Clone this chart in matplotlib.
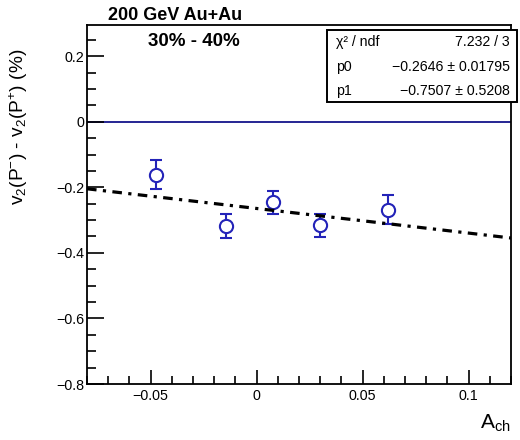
import matplotlib
matplotlib.use("Agg")
import matplotlib.pyplot as plt
import numpy as np
from matplotlib.patches import Rectangle
from matplotlib.ticker import MultipleLocator

plt.rcParams['font.family'] = ['Liberation Sans', 'DejaVu Sans']
plt.rcParams['mathtext.fontset'] = 'custom'
plt.rcParams['mathtext.rm'] = 'Liberation Sans'
plt.rcParams['mathtext.it'] = 'Liberation Sans'

# Data
a_ch = [-0.0474, -0.0144, 0.0077, 0.0297, 0.0620]
dv2 = [-0.161, -0.318, -0.246, -0.316, -0.269]
dv2_err = [0.045, 0.036, 0.034, 0.036, 0.044]

# Fit parameters (pol1)
p0 = -0.2646
p1 = -0.7507
fit_range = [-0.08, 0.12]
stats_rows = [("χ² / ndf", "7.232 / 3"),
              ("p0", "−0.2646 ± 0.01795"),
              ("p1", "−0.7507 ± 0.5208")]

W, H = 520, 440
fig = plt.figure(figsize=(W / 100, H / 100), dpi=100)
ax = fig.add_axes([87 / W, 1 - 384 / H, (511 - 87) / W, (384 - 25) / H])

ax.set_xlim(-0.08, 0.12)
ax.set_ylim(-0.8, 0.295)

ax.axhline(0, color='#14148a', lw=1.3, zorder=1)

ax.errorbar(a_ch, dv2, yerr=dv2_err, fmt='o', ms=9.5, mfc='white',
            mec='#2323b8', mew=1.5, ecolor='#2323b8', elinewidth=1.5,
            capsize=4, capthick=1.5, zorder=3)

xf = np.array(fit_range)
ax.plot(xf, p0 + p1 * xf, color='black', lw=2.3,
        dashes=(3.0, 2.0, 1.0, 2.0), zorder=4)

ax.xaxis.set_major_locator(MultipleLocator(0.05))
ax.xaxis.set_minor_locator(MultipleLocator(0.01))
ax.yaxis.set_major_locator(MultipleLocator(0.2))
ax.yaxis.set_minor_locator(MultipleLocator(0.05))
ax.tick_params(which='both', direction='in', top=False, right=False,
               labelsize=10.3, width=1.2)
ax.tick_params(axis='y', which='major', length=12, pad=2)
ax.tick_params(axis='y', which='minor', length=6.5)
ax.tick_params(axis='x', which='major', length=10, pad=3.5)
ax.tick_params(axis='x', which='minor', length=5.5)

def fmt(v, pos):
    if abs(v) < 1e-9:
        return "0"
    return ("%g" % v).replace("-", "−")
ax.xaxis.set_major_formatter(plt.FuncFormatter(fmt))
ax.yaxis.set_major_formatter(plt.FuncFormatter(fmt))

for sp in ax.spines.values():
    sp.set_linewidth(1.3)

# Titles
fig.text(108 / W, 1 - 20.5 / H, "200 GeV Au+Au", fontsize=13,
         fontweight='bold', ha='left', va='baseline')
fig.text(148 / W, 1 - 45.5 / H, "30% - 40%", fontsize=13.5,
         fontweight='bold', ha='left', va='baseline')
fig.text(19 / W, 1 - 127 / H, "v$_2$(P$^{-}$) - v$_2$(P$^{+}$) (%)",
         rotation=90, fontsize=13.8, ha='center', va='center')
fig.text(511 / W, 1 - 423 / H, "A$_{\\rm ch}$", fontsize=15,
         ha='right', va='center')

# Stats box
bx0, by0, bx1, by1 = 327, 30, 517, 102
fig.patches.append(Rectangle((bx0 / W, 1 - by1 / H), (bx1 - bx0) / W,
                             (by1 - by0) / H, transform=fig.transFigure,
                             facecolor='white', edgecolor='black', lw=1.4,
                             zorder=5))
row_y = [41.7, 66.7, 90.7]
for (lab, val), yy in zip(stats_rows, row_y):
    fig.text(336 / W, 1 - yy / H, lab, fontsize=10.2, ha='left',
             va='center', zorder=6)
    fig.text(510 / W, 1 - yy / H, val, fontsize=10.2, ha='right',
             va='center', zorder=6)

fig.savefig("out.png", dpi=100)
